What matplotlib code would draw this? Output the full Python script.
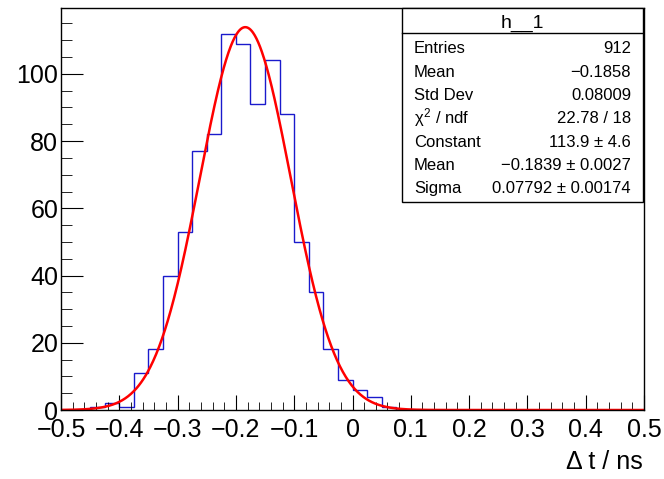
import numpy as np
import matplotlib.pyplot as plt
from matplotlib.patches import Rectangle
from matplotlib.ticker import MultipleLocator

plt.rcParams['font.family'] = ['Liberation Sans', 'DejaVu Sans']
plt.rcParams['mathtext.fontset'] = 'custom'
plt.rcParams['mathtext.rm'] = 'Liberation Sans'
plt.rcParams['mathtext.it'] = 'Liberation Sans'

# histogram h__1 : 40 bins from -0.5 to 0.5 ns
edges = np.linspace(-0.5, 0.5, 41)
counts = [0, 0, 1, 2, 1, 11, 18, 40, 53, 77, 82, 112, 109, 91, 104, 88, 50, 35,
          18, 9, 6, 4, 1] + [0] * 17

# gaus fit parameters
const, mean, sigma = 113.9, -0.1839, 0.07792

stat_names = ["Entries", "Mean", "Std Dev", r"$\chi^{2}$ / ndf", "Constant", "Mean", "Sigma"]
stat_values = ["912", "−0.1858", "0.08009", "22.78 / 18", "113.9 ± 4.6",
               "−0.1839 ± 0.0027", "0.07792 ± 0.00174"]

W, H = 664, 479
fig = plt.figure(figsize=(W / 100, H / 100), dpi=100)
ax = fig.add_axes([61 / W, 1 - 410 / H, (644 - 61) / W, (410 - 8) / H])

ax.stairs(counts, edges, color='#1a1acc', lw=1)
xf = np.linspace(-0.5, 0.5, 1000)
ax.plot(xf, const * np.exp(-0.5 * ((xf - mean) / sigma) ** 2), color='red', lw=1.8)

ax.set_xlim(-0.5, 0.5)
ax.set_ylim(0, 119.6)
ax.xaxis.set_major_locator(MultipleLocator(0.1))
ax.xaxis.set_minor_locator(MultipleLocator(0.02))
ax.yaxis.set_major_locator(MultipleLocator(20))
ax.yaxis.set_minor_locator(MultipleLocator(5))
ax.tick_params(which='both', direction='in', top=False, right=False, labelsize=18)
ax.tick_params(axis='x', which='major', length=11, pad=6)
ax.tick_params(axis='x', which='minor', length=6)
ax.tick_params(axis='y', which='major', length=16, pad=2)
ax.tick_params(axis='y', which='minor', length=8)
ax.xaxis.set_major_formatter(lambda v, p: ('%g' % round(v, 2)).replace('-', '−'))
for s in ax.spines.values():
    s.set_linewidth(1)

fig.text(643 / W, 1 - 462 / H, "Δ t / ns", ha='right', va='center', fontsize=18)

# stats box
bx0, by0, bx1, by1 = 402, 8, 643, 202
fig.add_artist(Rectangle((bx0 / W, 1 - by1 / H), (bx1 - bx0) / W, (by1 - by0) / H,
                         transform=fig.transFigure, fill=True, facecolor='white',
                         edgecolor='black', lw=1))
fig.add_artist(plt.Line2D([bx0 / W, bx1 / W], [1 - 33 / H, 1 - 33 / H],
                          transform=fig.transFigure, color='black', lw=1))
fig.text((bx0 + bx1) / 2 / W, 1 - 28 / H, "h__1", ha='center', va='baseline', fontsize=14)
for i, (n, v) in enumerate(zip(stat_names, stat_values)):
    y = 1 - (53.3 + 23.33 * i) / H
    fig.text(414 / W, y, n, ha='left', va='baseline', fontsize=12)
    fig.text(631 / W, y, v, ha='right', va='baseline', fontsize=12)

fig.savefig("out.png", dpi=100)
